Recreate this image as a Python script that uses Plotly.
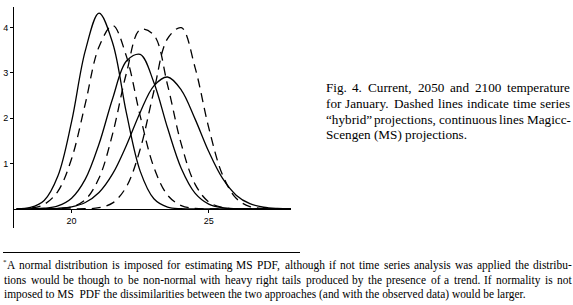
import plotly.graph_objects as go

# ---- data ----
x_vals = [18.0, 18.5, 19.0, 19.5, 20.0, 20.5, 21.0, 21.5, 22.0, 22.5, 23.0,
          23.5, 24.0, 24.5, 25.0, 25.5, 26.0, 26.5, 27.0, 27.5, 28.0]

# continuous lines: Magicc-Scengen (MS) projections
ms_current = [0.004, 0.033, 0.187, 0.726, 1.923, 3.488, 4.317, 3.652, 2.109, 0.833, 0.225,
              0.041, 0.005, 0.0, 0.0, 0.0, 0.0, 0.0, 0.0, 0.0, 0.0]
ms_2050 = [0.0, 0.003, 0.015, 0.066, 0.236, 0.656, 1.430, 2.441, 3.260, 3.407, 2.787,
           1.783, 0.893, 0.350, 0.107, 0.026, 0.005, 0.001, 0.0, 0.0, 0.0]
ms_2100 = [0.0, 0.001, 0.003, 0.013, 0.047, 0.142, 0.362, 0.777, 1.403, 2.127, 2.713,
           2.907, 2.620, 1.985, 1.264, 0.677, 0.304, 0.115, 0.037, 0.010, 0.002]

# dashed lines: time series "hybrid" projections
hy_current = [0.003, 0.019, 0.100, 0.388, 1.106, 2.320, 3.574, 4.044, 3.361, 2.051, 0.919,
              0.303, 0.073, 0.013, 0.002, 0.0, 0.0, 0.0, 0.0, 0.0, 0.0]
hy_2050 = [0.0, 0.0, 0.001, 0.007, 0.045, 0.204, 0.680, 1.665, 2.994, 3.951, 3.831,
           2.729, 1.427, 0.548, 0.155, 0.032, 0.005, 0.001, 0.0, 0.0, 0.0]
hy_2100 = [0.0, 0.0, 0.0, 0.0, 0.0, 0.004, 0.027, 0.134, 0.490, 1.315, 2.593,
           3.755, 3.994, 3.120, 1.791, 0.755, 0.234, 0.053, 0.009, 0.001, 0.0]

x_ticks = [20, 25]
y_ticks = [1, 2, 3, 4]

caption_lines = [
    "Fig. 4. Current, 2050 and 2100 temperature",
    "for January. Dashed lines indicate time series",
    "\u201chybrid\u201d projections, continuous lines Magicc-",
    "Scengen (MS) projections.",
]
footnote_mark = "*"
footnote_lines = [
    "A normal distribution is imposed for estimating MS PDF, although if not time series analysis was applied the distribu-",
    "tions would be though to be non-normal with heavy right tails produced by the presence of a trend. If normality is not",
    "imposed to MS  PDF the dissimilarities between the two approaches (and with the observed data) would be larger.",
]

# ---- layout geometry (pixels) ----
W, H = 573, 305
L, R, T, B = 14, 282, 7, 77
XR = [17.9, 28.0]
YR = [-0.42, 4.45]
SERIF = "Liberation Serif, Times New Roman, serif"

# Times / Liberation Serif advance widths (per 1000 em) used for justification
TW = {" ": 250, "!": 333, "(": 333, ")": 333, ",": 250, "-": 333, ".": 250,
      ":": 278, ";": 278, "*": 500, "\u201c": 444, "\u201d": 444}
TW.update({d: 500 for d in "0123456789"})
TW.update(dict(zip("ABCDEFGHIJKLMNOPQRSTUVWXYZ",
                   [722, 667, 667, 722, 611, 556, 722, 722, 333, 389, 722, 611, 889,
                    722, 722, 556, 722, 667, 556, 611, 722, 722, 944, 722, 722, 611])))
TW.update(dict(zip("abcdefghijklmnopqrstuvwxyz",
                   [444, 500, 444, 500, 444, 333, 500, 500, 278, 278, 500, 278, 778,
                    500, 500, 500, 500, 333, 389, 278, 500, 500, 722, 500, 500, 444])))


def text_w(s, size):
    return sum(TW.get(c, 500) for c in s) * size / 1000.0


def px_x(px):
    return (px - L) / (W - L - R)


def px_y(py):
    return (H - B - py) / (H - T - B)


fig = go.Figure()
for ys in (ms_current, ms_2050, ms_2100):
    fig.add_trace(go.Scatter(x=x_vals, y=ys, mode="lines",
                             line=dict(color="black", width=1.3, shape="spline"),
                             showlegend=False, hoverinfo="skip"))
for ys in (hy_current, hy_2050, hy_2100):
    fig.add_trace(go.Scatter(x=x_vals, y=ys, mode="lines",
                             line=dict(color="black", width=1.3, shape="spline",
                                       dash="9px,6px"),
                             showlegend=False, hoverinfo="skip"))

zero_pos = (0 - YR[0]) / (YR[1] - YR[0])

fig.update_layout(
    width=W, height=H,
    margin=dict(l=L, r=R, t=T, b=B, autoexpand=False),
    paper_bgcolor="white", plot_bgcolor="white",
    font=dict(family="Liberation Sans, Arial, sans-serif", size=9, color="black"),
    xaxis=dict(range=XR, showgrid=False, zeroline=False, showline=True,
               linecolor="black", linewidth=1, ticks="outside", ticklen=3,
               tickcolor="black", tickvals=x_ticks, anchor="free", automargin=False,
               position=zero_pos, tickfont=dict(size=9)),
    yaxis=dict(range=YR, showgrid=False, zeroline=False, showline=True,
               linecolor="black", linewidth=1, ticks="outside", ticklen=3,
               tickcolor="black", tickvals=y_ticks, automargin=False,
               tickfont=dict(size=9)),
)


def put_word(txt, xpx, ypx, size):
    fig.add_annotation(text=txt, xref="paper", yref="paper", x=px_x(xpx), y=px_y(ypx),
                       xanchor="left", yanchor="middle", showarrow=False, borderpad=0,
                       font=dict(family=SERIF, size=size, color="black"))


def put_line(line, x0, x1, ypx, size, justify):
    words = line.split()
    if not justify or len(words) < 2:
        put_word(line.replace("  ", " \u00a0"), x0, ypx, size)
        return
    widths = [text_w(w, size) for w in words]
    gap = (x1 - x0 - sum(widths)) / (len(words) - 1)
    x = x0
    for w, ww in zip(words, widths):
        put_word(w, x, ypx, size)
        x += ww + gap


# caption (justified block)
CAP_SIZE = 13.2
cap_y = [87.5, 103.3, 119.1, 134.9]
for i, (txt, yy) in enumerate(zip(caption_lines, cap_y)):
    put_line(txt, 324.5, 569.5, yy, CAP_SIZE, justify=(i < len(caption_lines) - 1))

# footnote rule
fig.add_shape(type="line", xref="paper", yref="paper",
              x0=px_x(3), x1=px_x(300), y0=px_y(252.5), y1=px_y(252.5),
              line=dict(color="black", width=1))

# footnote
FOOT_SIZE = round(523 / text_w(footnote_lines[2], 1.0), 2)
foot_y = [265, 280, 294.5]
put_word(footnote_mark, 2.0, 262.0, 7)
put_line(footnote_lines[0], 5.5, 570.5, foot_y[0], FOOT_SIZE, True)
put_line(footnote_lines[1], 3.0, 570.5, foot_y[1], FOOT_SIZE, True)
put_line(footnote_lines[2], 3.0, 570.5, foot_y[2], FOOT_SIZE, False)

fig.write_html("out.html",
               config={"displayModeBar": False, "staticPlot": True},
               post_script="document.body.style.margin='0';"
                           "document.body.style.overflow='hidden';")
